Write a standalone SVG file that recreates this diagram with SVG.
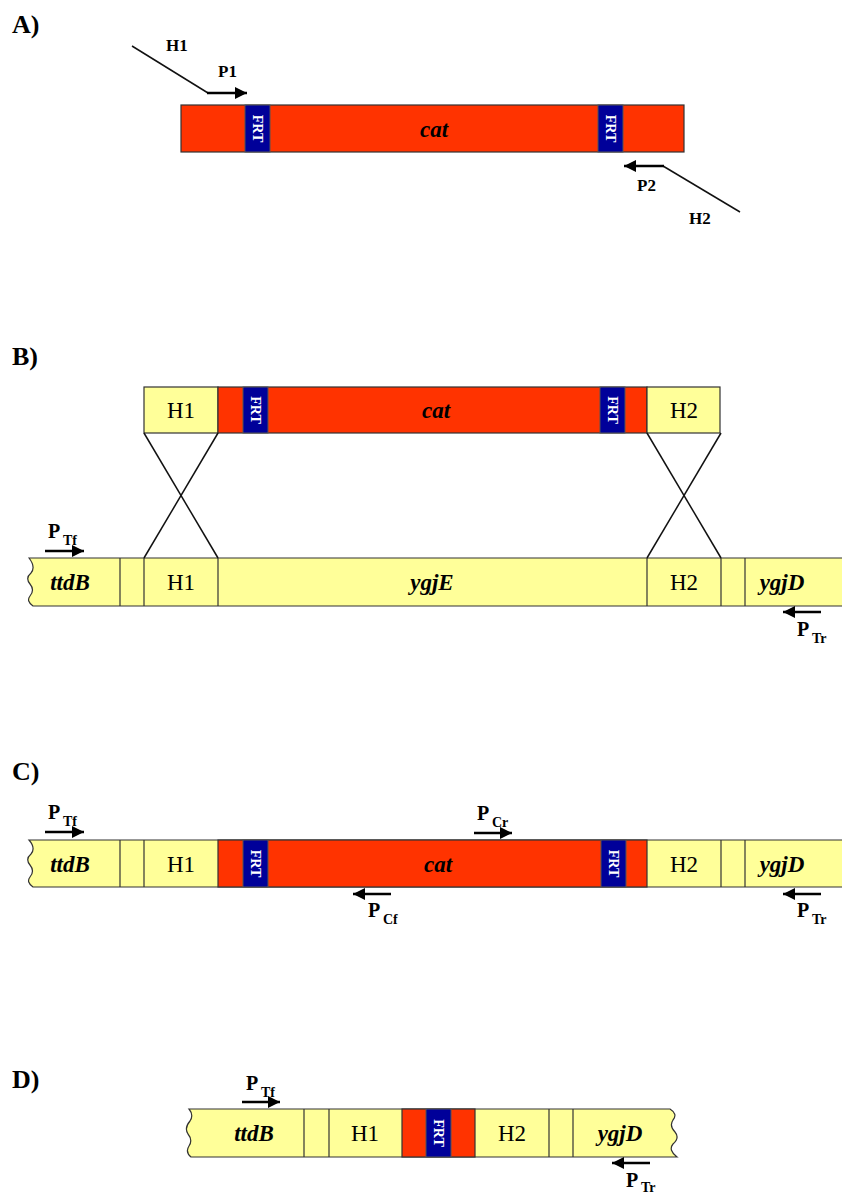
<svg xmlns="http://www.w3.org/2000/svg" width="842" height="1194" viewBox="0 0 842 1194">
<style>
.y{fill:#FFFF99;stroke:#333;stroke-width:1.2}
.r{fill:#FF3300;stroke:#333;stroke-width:1.2}
.f{fill:#000099;stroke:#555;stroke-width:1}
.ft{font-family:"Liberation Serif",serif;font-weight:bold;font-size:14px;fill:#fff;text-anchor:middle;dominant-baseline:central}
.sec{font-family:"Liberation Serif",serif;font-weight:bold;font-size:26px;fill:#000}
.h{font-family:"Liberation Serif",serif;font-size:23px;fill:#000;text-anchor:middle}
.g{font-family:"Liberation Serif",serif;font-weight:bold;font-style:italic;font-size:23px;fill:#000;text-anchor:middle}
.sm{font-family:"Liberation Serif",serif;font-weight:bold;font-size:17px;fill:#000}
.p{font-family:"Liberation Serif",serif;font-weight:bold;font-size:20px;fill:#000}
.ps{font-family:"Liberation Serif",serif;font-weight:bold;font-size:14px;fill:#000}
.ar{stroke:#000;stroke-width:2.5;fill:none;marker-end:url(#ah)}
.ln{stroke:#111;stroke-width:1.5;fill:none}
.wv{fill:#FFFF99;stroke:#333;stroke-width:1.2}
</style>
<defs>
<marker id="ah" markerUnits="userSpaceOnUse" markerWidth="13" markerHeight="12" refX="12" refY="6" orient="auto">
<path d="M0,0 L12,6 L0,12 z" fill="#000"/>
</marker>
</defs>

<!-- Section labels -->
<text class="sec" x="12" y="33">A)</text>
<text class="sec" x="12" y="365">B)</text>
<text class="sec" x="12" y="780">C)</text>
<text class="sec" x="12" y="1088">D)</text>

<!-- Section A -->
<g id="A-cassette">
<rect class="r" x="181" y="105" width="503" height="47"/>
<rect class="f" x="245" y="105" width="25" height="47"/>
<text class="ft" transform="rotate(90 257.5 128.5)" x="257.5" y="128.5">FRT</text>
<rect class="f" x="598" y="105" width="25" height="47"/>
<text class="ft" transform="rotate(90 610.5 128.5)" x="610.5" y="128.5">FRT</text>
<text class="g" x="434" y="137">cat</text>
</g>
<g id="A-primers">
<polyline class="ln" points="132,46 208,93"/>
<line class="ar" x1="207" y1="93" x2="247" y2="93"/>
<text class="sm" x="166" y="51">H1</text>
<text class="sm" x="218" y="77">P1</text>
<polyline class="ln" points="740,212 663,166"/>
<line class="ar" x1="664" y1="166" x2="624" y2="166"/>
<text class="sm" x="637" y="191">P2</text>
<text class="sm" x="689" y="224">H2</text>
</g>

<!-- Section B -->
<g id="B-cassette">
<rect class="y" x="144" y="387" width="74" height="46"/>
<text class="h" x="181" y="418">H1</text>
<rect class="r" x="218" y="387" width="429" height="46"/>
<rect class="f" x="243" y="387" width="25" height="46"/>
<text class="ft" transform="rotate(90 255.5 410)" x="255.5" y="410">FRT</text>
<rect class="f" x="600" y="387" width="25" height="46"/>
<text class="ft" transform="rotate(90 612.5 410)" x="612.5" y="410">FRT</text>
<text class="g" x="436" y="418">cat</text>
<rect class="y" x="647" y="387" width="73" height="46"/>
<text class="h" x="684" y="418">H2</text>
</g>
<g id="B-chromosome">
<path class="wv" d="M29,558 L850,558 L850,606 L33,606 Q26,601 30,596 Q35,590 30,584 Q25,578 31,573 Q36,567 29,558 z"/>
<line class="y" x1="120" y1="558" x2="120" y2="606"/>
<line class="y" x1="144" y1="558" x2="144" y2="606"/>
<line class="y" x1="218" y1="558" x2="218" y2="606"/>
<line class="y" x1="647" y1="558" x2="647" y2="606"/>
<line class="y" x1="721" y1="558" x2="721" y2="606"/>
<line class="y" x1="745" y1="558" x2="745" y2="606"/>
<text class="g" x="70" y="590">ttdB</text>
<text class="h" x="181" y="590">H1</text>
<text class="g" x="432" y="590">ygjE</text>
<text class="h" x="684" y="590">H2</text>
<text class="g" x="782" y="590">ygjD</text>
</g>
<g id="B-connectors">
<line class="ln" x1="144" y1="433" x2="218" y2="558"/>
<line class="ln" x1="218" y1="433" x2="144" y2="558"/>
<line class="ln" x1="647" y1="433" x2="721" y2="558"/>
<line class="ln" x1="721" y1="433" x2="647" y2="558"/>
</g>
<g id="B-primers">
<line class="ar" x1="45" y1="551" x2="84" y2="551"/>
<text class="p" x="48" y="538">P</text><text class="ps" x="63" y="545">Tf</text>
<line class="ar" x1="821" y1="612" x2="783" y2="612"/>
<text class="p" x="797" y="636">P</text><text class="ps" x="812" y="643">Tr</text>
</g>

<!-- Section C -->
<g id="C-chromosome">
<path class="wv" d="M29,840 L850,840 L850,887 L33,887 Q26,882 30,877 Q35,871 30,865 Q25,859 31,854 Q36,848 29,840 z"/>
<line class="y" x1="120" y1="840" x2="120" y2="887"/>
<line class="y" x1="144" y1="840" x2="144" y2="887"/>
<rect class="r" x="218" y="840" width="429" height="47"/>
<rect class="f" x="243" y="840" width="25" height="47"/>
<text class="ft" transform="rotate(90 255.5 863.5)" x="255.5" y="863.5">FRT</text>
<rect class="f" x="601" y="840" width="25" height="47"/>
<text class="ft" transform="rotate(90 613.5 863.5)" x="613.5" y="863.5">FRT</text>
<line class="y" x1="721" y1="840" x2="721" y2="887"/>
<line class="y" x1="745" y1="840" x2="745" y2="887"/>
<text class="g" x="70" y="872">ttdB</text>
<text class="h" x="181" y="872">H1</text>
<text class="g" x="438" y="872">cat</text>
<text class="h" x="684" y="872">H2</text>
<text class="g" x="782" y="872">ygjD</text>
</g>
<g id="C-primers">
<line class="ar" x1="45" y1="832" x2="84" y2="832"/>
<text class="p" x="48" y="819">P</text><text class="ps" x="63" y="826">Tf</text>
<line class="ar" x1="474" y1="833" x2="512" y2="833"/>
<text class="p" x="477" y="820">P</text><text class="ps" x="492" y="827">Cr</text>
<line class="ar" x1="391" y1="894" x2="353" y2="894"/>
<text class="p" x="368" y="917">P</text><text class="ps" x="383" y="924">Cf</text>
<line class="ar" x1="821" y1="894" x2="783" y2="894"/>
<text class="p" x="797" y="917">P</text><text class="ps" x="812" y="924">Tr</text>
</g>

<!-- Section D -->
<g id="D-chromosome">
<path class="wv" d="M189,1109 L670,1109 Q678,1114 673,1120 Q669,1126 675,1132 Q680,1138 673,1144 Q668,1150 677,1157 L191,1157 Q185,1152 189,1146 Q193,1140 188,1134 Q184,1128 190,1121 Q194,1115 189,1109 z"/>
<line class="y" x1="304" y1="1109" x2="304" y2="1157"/>
<line class="y" x1="329" y1="1109" x2="329" y2="1157"/>
<rect class="r" x="402" y="1109" width="73" height="48"/>
<rect class="f" x="426" y="1109" width="25" height="48"/>
<text class="ft" transform="rotate(90 438.5 1133)" x="438.5" y="1133">FRT</text>
<line class="y" x1="549" y1="1109" x2="549" y2="1157"/>
<line class="y" x1="573" y1="1109" x2="573" y2="1157"/>
<text class="g" x="254" y="1141">ttdB</text>
<text class="h" x="365" y="1141">H1</text>
<text class="h" x="512" y="1141">H2</text>
<text class="g" x="620" y="1141">ygjD</text>
</g>
<g id="D-primers">
<line class="ar" x1="242" y1="1102" x2="280" y2="1102"/>
<text class="p" x="246" y="1090">P</text><text class="ps" x="261" y="1097">Tf</text>
<line class="ar" x1="650" y1="1163" x2="612" y2="1163"/>
<text class="p" x="626" y="1187">P</text><text class="ps" x="641" y="1192">Tr</text>
</g>
</svg>
